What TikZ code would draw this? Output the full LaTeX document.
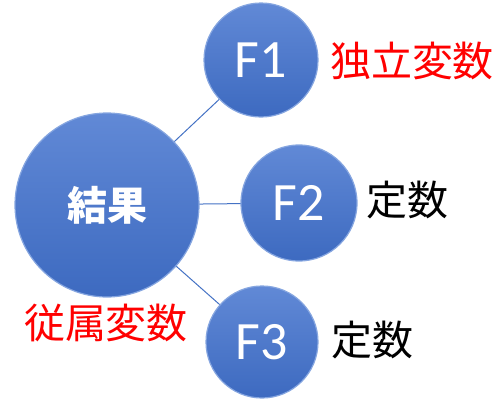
\documentclass[tikz,border=0pt]{standalone}
\usepackage{fontspec}
\setmainfont{Carlito}
\newfontfamily\cjk{Noto Sans CJK JP}
\definecolor{ballTop}{HTML}{6189D6}
\definecolor{ballBot}{HTML}{3D6AC0}
\definecolor{ballRim}{HTML}{86A6E0}
\definecolor{linkBlue}{HTML}{4472C4}
\definecolor{labRed}{HTML}{FF0000}
\tikzset{
  ball/.style={circle, inner sep=0pt, minimum size=#1, top color=ballTop, bottom color=ballBot, draw=ballRim, line width=1.2pt, text=white},
  link/.style={draw=linkBlue, line width=1pt},
  ftext/.style={font=\fontsize{54}{54}\selectfont},
  lab/.style={font=\cjk\fontsize{41}{41}\selectfont, inner sep=0pt}
}
\begin{document}
\begin{tikzpicture}[x=1pt,y=-1pt]
\useasboundingbox (0,0) rectangle (499,399);
\coordinate (cR) at (107,205);
\coordinate (c1) at (261,60);
\coordinate (c2) at (299,203);
\coordinate (c3) at (262,342);
\draw[link] (cR) -- (c1);
\draw[link] (cR) -- (c2);
\draw[link] (cR) -- (c3);
\node[ball=184pt, font=\cjk\bfseries\fontsize{40}{40}\selectfont] (res) at (cR) {結果};
\node[ball=114pt, ftext] (f1) at (c1) {F1};
\node[ball=116pt, ftext] (f2) at (c2) {F2};
\node[ball=112pt, ftext] (f3) at (c3) {F3};
\node[lab, text=labRed] (l1) at (412,61) {独立変数};
\node[lab] (l2) at (407,200) {定数};
\node[lab] (l3) at (372,340) {定数};
\node[lab, text=labRed] (l0) at (106,323) {従属変数};
\end{tikzpicture}
\end{document}
